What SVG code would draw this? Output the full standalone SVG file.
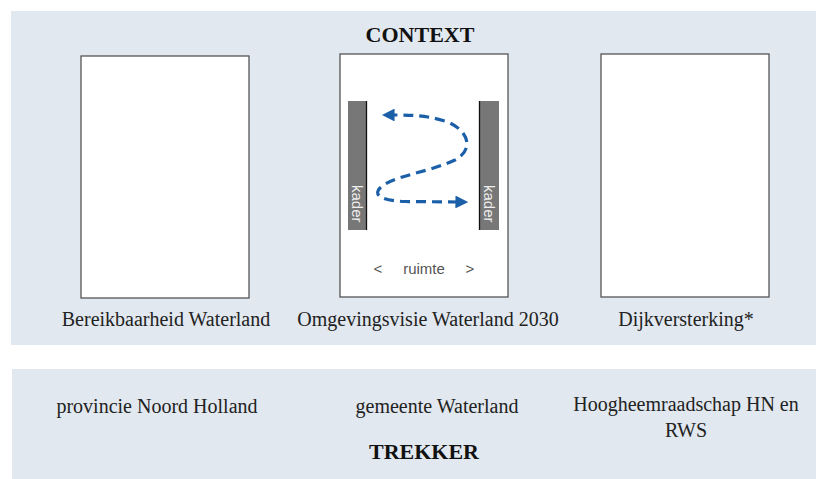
<svg xmlns="http://www.w3.org/2000/svg" width="816" height="479" viewBox="0 0 816 479">
<style>
.panel{fill:#e1e8ef}
.box{fill:#fff;stroke:#555;stroke-width:1.3}
.lbl{font-family:"Liberation Serif",serif;font-size:20px;fill:#222;text-anchor:middle}
.ttl{font-family:"Liberation Serif",serif;font-size:22px;font-weight:bold;fill:#111;text-anchor:middle}
.bar{fill:#777}
.kader{font-family:"Liberation Sans",Arial,sans-serif;font-size:15px;fill:#eee}
.ruimte{font-family:"Liberation Sans",Arial,sans-serif;font-size:15px;fill:#555;text-anchor:middle}
.flow{fill:none;stroke:#1a5fa8;stroke-width:3.2;stroke-dasharray:10 6}
</style>
<defs>
<marker id="ah" viewBox="0 0 10 10" refX="2" refY="5" markerWidth="4" markerHeight="4" orient="auto-start-reverse" markerUnits="strokeWidth">
<path d="M0,0 L10,5 L0,10 Z" fill="#1a5fa8"/>
</marker>
</defs>
<rect class="panel" x="11" y="11" width="805" height="334"/>
<rect class="panel" x="12" y="369" width="804" height="110"/>
<text class="ttl" x="420" y="42">CONTEXT</text>
<text class="ttl" x="424" y="459">TREKKER</text>
<g id="bereikbaarheid">
<rect class="box" x="81" y="56" width="168" height="242"/>
<text class="lbl" x="166" y="326">Bereikbaarheid Waterland</text>
</g>
<g id="omgevingsvisie">
<rect class="box" x="340" y="54" width="168" height="243"/>
<rect class="bar" x="348" y="101" width="19" height="129"/>
<line x1="366.5" y1="101" x2="366.5" y2="230" stroke="#111" stroke-width="1.3"/>
<rect class="bar" x="479" y="101" width="20" height="129"/>
<line x1="479.5" y1="101" x2="479.5" y2="230" stroke="#111" stroke-width="1.3"/>
<text class="kader" transform="translate(352,185) rotate(90)">kader</text>
<text class="kader" transform="translate(484,185) rotate(90)">kader</text>
<text class="ruimte" x="378" y="274">&lt;</text>
<text class="ruimte" x="424" y="274">ruimte</text>
<text class="ruimte" x="470" y="274">&gt;</text>
<text class="lbl" x="428" y="326">Omgevingsvisie Waterland 2030</text>
</g>
<g id="dijkversterking">
<rect class="box" x="601" y="54" width="168" height="243"/>
<text class="lbl" x="686" y="326">Dijkversterking*</text>
</g>
<g id="provincie"><text class="lbl" x="157" y="413">provincie Noord Holland</text></g>
<g id="gemeente"><text class="lbl" x="437" y="413">gemeente Waterland</text></g>
<g id="hoogheemraadschap"><text class="lbl" x="686" y="411">Hoogheemraadschap HN en</text><text class="lbl" x="686" y="437">RWS</text></g>
<g id="connectors">
<path class="flow" marker-end="url(#ah)" marker-start="url(#ah)" d="M458,202 L405,201.5 C385,201 372,196 380,188 C392,176 430,172 455,160 C474,150 470,130 445,121 C425,115 410,115 392,115"/>
</g>
</svg>
